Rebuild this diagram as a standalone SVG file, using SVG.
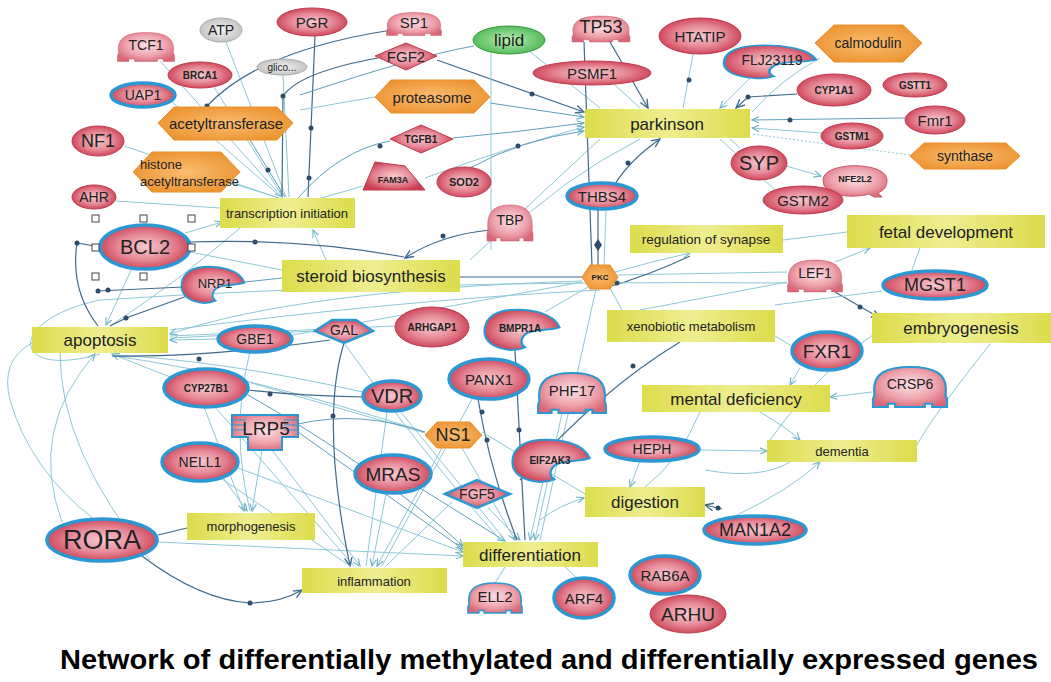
<svg xmlns="http://www.w3.org/2000/svg" width="1051" height="682" viewBox="0 0 1051 682">
<defs>
<radialGradient id="rg" cx="50%" cy="50%" r="55%"><stop offset="0" stop-color="#f6c9cf"/><stop offset="0.55" stop-color="#e58795"/><stop offset="1" stop-color="#c93b4f"/></radialGradient>
<radialGradient id="tg" cx="50%" cy="45%" r="60%"><stop offset="0" stop-color="#fbe0e3"/><stop offset="0.6" stop-color="#eea2ac"/><stop offset="1" stop-color="#d86878"/></radialGradient>
<linearGradient id="yg" x1="0" x2="1"><stop offset="0" stop-color="#dcdc4c"/><stop offset="0.5" stop-color="#eeee90"/><stop offset="1" stop-color="#dcdc4c"/></linearGradient>
<radialGradient id="og" cx="50%" cy="50%" r="60%"><stop offset="0" stop-color="#f9bd70"/><stop offset="1" stop-color="#ec912e"/></radialGradient>
<radialGradient id="gg" cx="50%" cy="50%" r="60%"><stop offset="0" stop-color="#bdeeb5"/><stop offset="1" stop-color="#3fb34a"/></radialGradient>
<radialGradient id="sg" cx="50%" cy="50%" r="60%"><stop offset="0" stop-color="#f2f2f2"/><stop offset="1" stop-color="#bcbcbc"/></radialGradient>
<marker id="al" viewBox="0 0 10 10" refX="9" refY="5" markerWidth="8" markerHeight="8" orient="auto"><path d="M0,1 L9,5 L0,9" fill="none" stroke="#6fb0c6" stroke-width="1.4"/></marker>
<marker id="ad" viewBox="0 0 10 10" refX="9" refY="5" markerWidth="8" markerHeight="8" orient="auto"><path d="M0,1 L9,5 L0,9" fill="none" stroke="#3f6a8a" stroke-width="1.4"/></marker>
<path id="tfp" d="M-48,12 C-52,-22 -30,-30 0,-30 C30,-30 52,-22 48,12 L50,18 L50,30 L30,30 L30,25 L20,25 L20,30 L-20,30 L-20,25 L-30,25 L-30,30 L-50,30 L-50,18 Z"/>
<path id="enz" d="M50,-4 C42,-26 10,-32 -15,-30 C-40,-28 -50,-14 -50,2 C-50,18 -36,28 -14,30 C-6,30 0,28 4,26 C-4,20 -2,6 14,2 C26,-1 40,0 50,-4 Z"/>
</defs>
<style>
.e{fill:url(#rg);stroke:#c23a4c;stroke-width:1}
.b{stroke:#2b98d4;stroke-width:3.5}
.tf{fill:url(#tg);stroke:#c9566a;stroke-width:1;vector-effect:non-scaling-stroke}
.tb{fill:url(#tg);stroke:#2b98d4;stroke-width:3;vector-effect:non-scaling-stroke}
.en{fill:url(#rg);stroke:#2b98d4;stroke-width:3;vector-effect:non-scaling-stroke}
.hx{fill:url(#og);stroke:#e8922e;stroke-width:1}
.bx{fill:url(#yg)}
.t{font-family:"Liberation Sans",Arial,sans-serif;fill:#222;text-anchor:middle;dominant-baseline:central}
.s{font-weight:bold;font-size:10px}
.l{fill:none;stroke:#8cc8d8;stroke-width:1}
.m{fill:none;stroke:#5e9fba;stroke-width:1}
.d{fill:none;stroke:#3f6a8a;stroke-width:1.2}
.dot{fill:#2d4d6a}
.h{fill:#fff;stroke:#444;stroke-width:1}
</style>
<rect width="1051" height="682" fill="#fff"/>
<g id="connectors">
<path class="l" d="M160,61 L282,197" marker-end="url(#al)"/>
<path class="l" d="M226,42 L286,197"/>
<path class="d" d="M315,36 L308,197"/>
<path class="l" d="M214,87 L283,197"/>
<path class="l" d="M283,75 L289,197"/>
<path class="l" d="M172,102 L281,197"/>
<path class="m" d="M250,140 L285,197"/>
<path class="l" d="M228,182 L279,198"/>
<path class="l" d="M124,146 L279,198"/>
<path class="d" d="M392,30 Q260,50 207,106"/>
<path class="d" d="M378,58 Q300,72 283,96 L282,196"/>
<path class="m" d="M390,141 Q340,150 298,198"/>
<path class="l" d="M363,186 L318,199"/>
<path class="l" d="M116,201 L220,208"/>
<path class="l" d="M185,233 L222,222" marker-end="url(#al)"/>
<path class="l" d="M326,260 L313,230" marker-end="url(#al)"/>
<path class="l" d="M240,228 Q180,280 110,326"/>
<path class="m" d="M474,46 Q420,55 300,95"/>
<path class="l" d="M375,97 L300,110"/>
<path class="d" d="M437,60 L584,112" marker-end="url(#ad)"/>
<path class="m" d="M490,103 L584,117" marker-end="url(#al)"/>
<path class="m" d="M453,138 Q520,132 584,123" marker-end="url(#al)"/>
<path class="l" d="M425,178 Q500,150 584,127" marker-end="url(#al)"/>
<path class="m" d="M470,168 Q520,140 584,131" marker-end="url(#al)"/>
<path class="d" d="M610,42 L648,108" marker-end="url(#ad)"/>
<path class="l" d="M615,85 L640,108"/>
<path class="l" d="M693,54 L683,108"/>
<path class="l" d="M752,76 L720,108" marker-end="url(#al)"/>
<path class="d" d="M797,94 L748,97 L736,108" marker-end="url(#ad)"/>
<path class="m" d="M905,118 L752,120" marker-end="url(#al)"/>
<path class="l" d="M822,133 L752,128" marker-end="url(#al)"/>
<path class="l" d="M740,148 L730,139"/>
<path class="l" d="M775,190 L720,139"/>
<path class="l" d="M820,58 Q780,80 752,112"/>
<path class="l" stroke-dasharray="2,2" d="M910,155 L752,134"/>
<path class="d" d="M615,184 Q630,160 660,139" marker-end="url(#ad)"/>
<path class="l" d="M528,50 L600,108"/>
<path class="l" d="M786,166 L821,176" marker-end="url(#al)"/>
<path class="l" d="M640,139 Q560,180 500,240"/>
<path class="l" d="M600,139 L470,260"/>
<path class="l" d="M491,53 L491,250"/>
<path class="d" d="M584,42 L592,266"/>
<path class="d" d="M598,210 L598,265"/>
<path class="l" d="M606,209 L604,266"/>
<path class="d" d="M582,277 L460,277"/>
<path class="l" d="M615,272 Q650,262 690,253" marker-end="url(#al)"/>
<path class="d" d="M490,230 Q440,235 405,258" marker-end="url(#ad)"/>
<path class="l" d="M582,281 Q300,290 170,334" marker-end="url(#al)"/>
<path class="l" d="M618,275 L787,272"/>
<path class="l" d="M610,288 L622,310"/>
<path class="d" d="M835,292 L880,318" marker-end="url(#ad)"/>
<path class="l" d="M787,282 L640,310"/>
<path class="l" d="M882,291 L775,305"/>
<path class="l" d="M835,262 L870,248" marker-end="url(#al)"/>
<path class="l" d="M545,312 L588,287"/>
<path class="l" d="M596,289 L540,540"/>
<path class="d" d="M605,288 Q650,275 690,256"/>
<path class="l" d="M783,240 L847,232"/>
<path class="l" d="M920,248 L912,270"/>
<path class="l" d="M800,368 L790,385" marker-end="url(#al)"/>
<path class="l" d="M792,346 L775,336"/>
<path class="l" d="M872,392 L830,397" marker-end="url(#al)"/>
<path class="l" d="M700,450 L767,451" marker-end="url(#al)"/>
<path class="l" d="M640,461 L630,487" marker-end="url(#al)"/>
<path class="d" d="M722,509 L705,505" marker-end="url(#ad)"/>
<path class="l" d="M735,516 Q790,490 820,462" marker-end="url(#al)"/>
<path class="l" d="M705,470 Q760,480 790,462"/>
<path class="l" d="M760,412 Q790,430 800,440" marker-end="url(#al)"/>
<path class="d" d="M680,342 Q600,390 520,480"/>
<path class="l" d="M540,520 Q560,505 584,498" marker-end="url(#al)"/>
<path class="l" d="M700,412 Q680,460 645,487"/>
<path class="l" d="M880,330 Q820,370 770,440"/>
<path class="l" d="M990,344 Q930,420 917,445"/>
<path class="l" d="M132,268 L106,325" marker-end="url(#al)"/>
<path class="d" d="M183,287 L98,291"/>
<path class="d" d="M190,295 L126,318 L110,326"/>
<path class="l" d="M218,339 L170,340" marker-end="url(#al)"/>
<path class="l" d="M395,326 L170,336"/>
<path class="l" d="M315,331 L170,338"/>
<path class="l" d="M170,377 L112,354" marker-end="url(#al)"/>
<path class="l" d="M363,392 Q220,360 112,355"/>
<path class="l" d="M425,432 Q250,375 115,356"/>
<path class="l" d="M62,522 Q28,430 95,354" marker-end="url(#al)"/>
<path class="l" d="M32,343 Q0,360 10,400 Q30,470 95,520"/>
<path class="l" d="M100,354 C10,380 5,320 100,300 Q400,280 787,283"/>
<path class="l" d="M170,330 Q400,300 600,290"/>
<path class="d" d="M100,247 L77,243 Q70,290 98,326"/>
<path class="d" d="M190,242 Q300,238 404,257"/>
<path class="l" d="M60,353 Q60,450 150,560"/>
<path class="d" d="M112,356 Q200,358 330,340"/>
<path class="l" d="M462,448 L515,540" marker-end="url(#al)"/>
<path class="m" d="M420,488 L505,541" marker-end="url(#al)"/>
<path class="l" d="M488,508 L520,540" marker-end="url(#al)"/>
<path class="l" d="M543,481 L530,540" marker-end="url(#al)"/>
<path class="d" d="M478,399 Q490,470 517,540"/>
<path class="l" d="M562,413 L535,540" marker-end="url(#al)"/>
<path class="l" d="M400,411 L505,540"/>
<path class="m" d="M248,395 Q380,470 463,546" marker-end="url(#al)"/>
<path class="m" d="M298,432 L463,549" marker-end="url(#al)"/>
<path class="l" d="M238,468 L463,552" marker-end="url(#al)"/>
<path class="l" d="M157,542 L463,556" marker-end="url(#al)"/>
<path class="l" d="M344,343 Q420,450 500,540"/>
<path class="l" d="M495,583 L505,567"/>
<path class="l" d="M578,579 L565,567"/>
<path class="d" d="M515,350 L525,540"/>
<path class="l" d="M482,432 L585,494"/>
<path class="l" d="M386,494 L372,566" marker-end="url(#al)"/>
<path class="l" d="M387,412 L366,566"/>
<path class="l" d="M442,448 L377,566" marker-end="url(#al)"/>
<path class="l" d="M272,450 L360,566" marker-end="url(#al)"/>
<path class="l" d="M215,407 L354,566"/>
<path class="d" d="M344,343 Q320,420 350,566" marker-end="url(#ad)"/>
<path class="d" d="M142,556 Q200,600 250,603 Q280,603 302,590" marker-end="url(#ad)"/>
<path class="l" d="M222,479 L350,566"/>
<path class="l" d="M472,399 L382,566"/>
<path class="l" d="M452,502 L386,566"/>
<path class="l" d="M224,479 L247,511" marker-end="url(#al)"/>
<path class="l" d="M262,450 L252,511" marker-end="url(#al)"/>
<path class="l" d="M204,407 L244,511" marker-end="url(#al)"/>
<path class="l" d="M250,352 Q230,430 250,511"/>
<path class="d" d="M158,535 L187,528"/>
<path class="m" d="M245,282 L282,278"/>
<path class="l" d="M190,252 L282,270"/>
<path class="l" d="M293,335 L582,282"/>
<path class="l" d="M248,382 L425,433"/>
<path class="m" d="M298,424 Q360,410 425,432"/>
<path class="d" d="M248,390 Q300,396 363,397"/>
<polygon class="dot" points="598,239 602,245 598,251 594,245"/>
<circle class="dot" cx="311" cy="128" r="2.5"/>
<circle class="dot" cx="309" cy="178" r="2.5"/>
<circle class="dot" cx="268" cy="170" r="2.5"/>
<circle class="dot" cx="207" cy="106" r="2.5"/>
<circle class="dot" cx="283" cy="96" r="2.5"/>
<circle class="dot" cx="380" cy="146" r="2.5"/>
<circle class="dot" cx="532" cy="94" r="2.5"/>
<circle class="dot" cx="518" cy="146" r="2.5"/>
<circle class="dot" cx="689" cy="80" r="2.5"/>
<circle class="dot" cx="748" cy="97" r="2.5"/>
<circle class="dot" cx="790" cy="120" r="2.5"/>
<circle class="dot" cx="628" cy="163" r="2.5"/>
<circle class="dot" cx="443" cy="236" r="2.5"/>
<circle class="dot" cx="617" cy="283" r="2.5"/>
<circle class="dot" cx="860" cy="307" r="2.5"/>
<circle class="dot" cx="718" cy="508" r="2.5"/>
<circle class="dot" cx="633" cy="366" r="2.5"/>
<circle class="dot" cx="98" cy="291" r="2.5"/>
<circle class="dot" cx="108" cy="290" r="2.5"/>
<circle class="dot" cx="126" cy="318" r="2.5"/>
<circle class="dot" cx="77" cy="243" r="2.5"/>
<circle class="dot" cx="255" cy="242" r="2.5"/>
<circle class="dot" cx="199" cy="359" r="2.5"/>
<circle class="dot" cx="482" cy="412" r="2.5"/>
<circle class="dot" cx="487" cy="440" r="2.5"/>
<circle class="dot" cx="519" cy="430" r="2.5"/>
<circle class="dot" cx="333" cy="416" r="2.5"/>
<circle class="dot" cx="250" cy="603" r="2.5"/>
<circle class="dot" cx="270" cy="394" r="2.5"/>
<circle class="dot" cx="380" cy="490" r="2.5"/>
</g>
<g id="n-TCF1"><use href="#tfp" class="tf" transform="translate(146,47) scale(0.57,0.48)"/><text class="t" x="146" y="45" font-size="14">TCF1</text></g>
<g id="n-ATP"><ellipse cx="221" cy="30" rx="21" ry="12" fill="url(#sg)" stroke="#aaa"/><text class="t" x="221" y="30" font-size="14">ATP</text></g>
<g id="n-PGR"><ellipse class="e" cx="312" cy="22" rx="35" ry="14"/><text class="t" x="312" y="22" font-size="15">PGR</text></g>
<g id="n-BRCA1"><ellipse class="e" cx="200" cy="75" rx="32" ry="13"/><text class="t s" x="200" y="75">BRCA1</text></g>
<g id="n-glico"><ellipse cx="282" cy="67" rx="25" ry="8" fill="url(#sg)" stroke="#aaa"/><text class="t" x="282" y="67" font-size="10">glico...</text></g>
<g id="n-UAP1"><ellipse class="e b" cx="143" cy="95" rx="32" ry="12"/><text class="t" x="143" y="95" font-size="14">UAP1</text></g>
<g id="n-acetyltransferase"><polygon class="hx" points="158,123 174,107 277,107 293,123 277,140 174,140"/><text class="t" x="226" y="123" font-size="15">acetyltransferase</text></g>
<g id="n-NF1"><ellipse class="e" cx="98" cy="141" rx="26" ry="15"/><text class="t" x="98" y="141" font-size="18">NF1</text></g>
<g id="n-histone"><polygon class="hx" points="133,172 152,152 221,152 240,172 221,192 152,192"/><text class="t" x="140" y="164" font-size="13" style="text-anchor:start">histone</text><text class="t" x="140" y="181" font-size="13" style="text-anchor:start">acetyltransferase</text></g>
<g id="n-AHR"><ellipse class="e" cx="94" cy="197" rx="22" ry="12"/><text class="t" x="94" y="197" font-size="14">AHR</text></g>
<g id="n-SP1"><use href="#tfp" class="tf" transform="translate(414,24) scale(0.55,0.38)"/><text class="t" x="414" y="22" font-size="15">SP1</text></g>
<g id="n-FGF2"><polygon class="e" points="375,56 406,43 437,56 406,70"/><text class="t" x="406" y="56" font-size="15">FGF2</text></g>
<g id="n-lipid"><ellipse cx="509" cy="40" rx="36" ry="14" fill="url(#gg)" stroke="#3a9a3a"/><text class="t" x="509" y="40" font-size="17">lipid</text></g>
<g id="n-TP53"><use href="#tfp" class="tf" transform="translate(601,29) scale(0.58,0.43)"/><text class="t" x="601" y="27" font-size="18">TP53</text></g>
<g id="n-HTATIP"><ellipse class="e" cx="700" cy="36" rx="41" ry="18"/><text class="t" x="700" y="36" font-size="15">HTATIP</text></g>
<g id="n-PSMF1"><ellipse class="e" cx="592" cy="73" rx="59" ry="12"/><text class="t" x="592" y="73" font-size="15">PSMF1</text></g>
<g id="n-proteasome"><polygon class="hx" points="375,97 391,80 474,80 490,97 474,113 391,113"/><text class="t" x="432" y="97" font-size="15">proteasome</text></g>
<g id="n-TGFB1"><polygon class="e" points="390,139 421,125 453,139 421,153"/><text class="t s" x="421" y="139">TGFB1</text></g>
<g id="n-FAM3A"><polygon class="e" points="375,162 405,166 425,190 363,190"/><text class="t s" x="393" y="180" style="font-size:9px">FAM3A</text></g>
<g id="n-SOD2"><ellipse class="e" cx="464" cy="182" rx="27" ry="15"/><text class="t s" x="464" y="182" style="font-size:11px">SOD2</text></g>
<g id="n-THBS4"><ellipse class="e b" cx="602" cy="196" rx="35" ry="13"/><text class="t" x="602" y="196" font-size="15">THBS4</text></g>
<g id="n-parkinson"><rect class="bx" x="585" y="109" width="165" height="29"/><text class="t" x="667" y="124" font-size="17">parkinson</text></g>
<g id="n-FLJ23119"><use href="#enz" class="en" transform="translate(770,62) scale(0.92,0.55)"/><text class="t" x="772" y="60" font-size="14">FLJ23119</text></g>
<g id="n-calmodulin"><polygon class="hx" points="815,43 834,25 903,25 922,43 903,62 834,62"/><text class="t" x="868" y="43" font-size="14">calmodulin</text></g>
<g id="n-CYP1A1"><ellipse class="e" cx="834" cy="90" rx="37" ry="16"/><text class="t s" x="834" y="90">CYP1A1</text></g>
<g id="n-GSTT1"><ellipse class="e" cx="915" cy="85" rx="32" ry="12"/><text class="t s" x="915" y="85">GSTT1</text></g>
<g id="n-Fmr1"><ellipse class="e" cx="935" cy="120" rx="30" ry="14"/><text class="t" x="935" y="120" font-size="15">Fmr1</text></g>
<g id="n-GSTM1"><ellipse class="e" cx="852" cy="136" rx="31" ry="13"/><text class="t s" x="852" y="136">GSTM1</text></g>
<g id="n-synthase"><polygon class="hx" points="910,156 924,143 1006,143 1020,156 1006,169 924,169"/><text class="t" x="965" y="156" font-size="14">synthase</text></g>
<g id="n-SYP"><ellipse class="e" cx="759" cy="163" rx="28" ry="17"/><text class="t" x="759" y="163" font-size="20">SYP</text></g>
<g id="n-NFE2L2"><path class="tf" d="M823,180 C823,161 887,161 887,180 C887,187 884,190 878,193 L882,197 L874,197 L869,194 C855,198 823,198 823,180 Z"/><text class="t s" x="855" y="179" style="font-size:9px">NFE2L2</text></g>
<g id="n-GSTM2"><ellipse class="e" cx="803" cy="200" rx="40" ry="14"/><text class="t" x="803" y="200" font-size="15">GSTM2</text></g>
<g id="n-transcription-initiation"><rect class="bx" x="220" y="198" width="135" height="30"/><text class="t" x="287" y="213" font-size="13">transcription initiation</text></g>
<g id="n-TBP"><use href="#tfp" class="tf" transform="translate(510,223) scale(0.46,0.6)"/><text class="t" x="510" y="220" font-size="14">TBP</text></g>
<g id="n-regulation-of-synapse"><rect class="bx" x="630" y="225" width="153" height="28"/><text class="t" x="706" y="239" font-size="13.5">regulation of synapse</text></g>
<g id="n-fetal-development"><rect class="bx" x="847" y="215" width="198" height="33"/><text class="t" x="946" y="232" font-size="17">fetal development</text></g>
<g id="n-BCL2"><ellipse class="e b" cx="145" cy="247" rx="45" ry="22"/><text class="t" x="145" y="247" font-size="20">BCL2</text><g class="h"><rect x="92" y="215" width="7" height="7"/><rect x="140" y="215" width="7" height="7"/><rect x="188" y="215" width="7" height="7"/><rect x="92" y="244" width="7" height="7"/><rect x="188" y="244" width="7" height="7"/><rect x="92" y="273" width="7" height="7"/><rect x="140" y="273" width="7" height="7"/><rect x="188" y="273" width="7" height="7"/></g></g>
<g id="n-steroid-biosynthesis"><rect class="bx" x="282" y="260" width="178" height="32"/><text class="t" x="371" y="276" font-size="17">steroid biosynthesis</text></g>
<g id="n-PKC"><polygon class="hx" points="582,277 590,265 610,265 618,277 610,289 590,289"/><text class="t s" x="600" y="277" style="font-size:8px">PKC</text></g>
<g id="n-NRP1"><use href="#enz" class="en" transform="translate(213,285) scale(0.63,0.6)"/><text class="t" x="215" y="283" font-size="13">NRP1</text></g>
<g id="n-LEF1"><use href="#tfp" class="tf" transform="translate(815,276) scale(0.55,0.53)"/><text class="t" x="815" y="273" font-size="14">LEF1</text></g>
<g id="n-MGST1"><ellipse class="e b" cx="935" cy="285" rx="52" ry="14"/><text class="t" x="935" y="285" font-size="18">MGST1</text></g>
<g id="n-apoptosis"><rect class="bx" x="32" y="327" width="136" height="26"/><text class="t" x="100" y="340" font-size="17">apoptosis</text></g>
<g id="n-GBE1"><ellipse class="e b" cx="255" cy="339" rx="37" ry="13"/><text class="t" x="255" y="339" font-size="14">GBE1</text></g>
<g id="n-GAL"><polygon class="e b" style="stroke-width:2.5" points="315,331 332,320 356,320 373,331 344,343"/><text class="t" x="344" y="330" font-size="14">GAL</text></g>
<g id="n-ARHGAP1"><ellipse class="e" cx="432" cy="327" rx="37" ry="20"/><text class="t s" x="432" y="327">ARHGAP1</text></g>
<g id="n-BMPR1A"><use href="#enz" class="en" transform="translate(522,330) scale(0.75,0.67)"/><text class="t s" x="520" y="328">BMPR1A</text></g>
<g id="n-xenobiotic-metabolism"><rect class="bx" x="607" y="310" width="168" height="32"/><text class="t" x="691" y="326" font-size="13">xenobiotic metabolism</text></g>
<g id="n-embryogenesis"><rect class="bx" x="872" y="313" width="179" height="30"/><text class="t" x="961" y="328" font-size="17">embryogenesis</text></g>
<g id="n-FXR1"><ellipse class="e b" cx="827" cy="351" rx="35" ry="19"/><text class="t" x="827" y="351" font-size="19">FXR1</text></g>
<g id="n-CYP27B1"><ellipse class="e b" cx="206" cy="388" rx="42" ry="19"/><text class="t s" x="206" y="388">CYP27B1</text></g>
<g id="n-PANX1"><ellipse class="e b" cx="489" cy="379" rx="40" ry="20"/><text class="t" x="489" y="379" font-size="15">PANX1</text></g>
<g id="n-VDR"><ellipse class="e b" cx="392" cy="396" rx="29" ry="15"/><text class="t" x="392" y="396" font-size="20">VDR</text></g>
<g id="n-PHF17"><use href="#tfp" class="tb" transform="translate(572,393) scale(0.68,0.67)"/><text class="t" x="572" y="390" font-size="15">PHF17</text></g>
<g id="n-CRSP6"><use href="#tfp" class="tb" transform="translate(910,387) scale(0.74,0.67)"/><text class="t" x="910" y="384" font-size="14">CRSP6</text></g>
<g id="n-mental-deficiency"><rect class="bx" x="642" y="385" width="188" height="27"/><text class="t" x="736" y="399" font-size="17">mental deficiency</text></g>
<g id="n-LRP5"><path fill="url(#tg)" stroke="#2b98d4" stroke-width="2" d="M232,415 H298 V437 H282 V450 H248 V437 H232 Z"/><path fill="none" stroke="#2b98d4" stroke-width="1" d="M232,420 H246 M232,425 H246 M232,430 H246 M284,420 H298 M284,425 H298 M284,430 H298"/><text class="t" x="266" y="428" font-size="19">LRP5</text></g>
<g id="n-NS1"><polygon class="hx" points="425,435 437,422 470,422 482,435 470,448 437,448"/><text class="t" x="453" y="435" font-size="18">NS1</text></g>
<g id="n-dementia"><rect class="bx" x="767" y="440" width="150" height="22"/><text class="t" x="842" y="451" font-size="13">dementia</text></g>
<g id="n-HEPH"><ellipse class="e b" cx="652" cy="449" rx="47" ry="12"/><text class="t" x="652" y="449" font-size="14">HEPH</text></g>
<g id="n-NELL1"><ellipse class="e b" cx="200" cy="462" rx="38" ry="19"/><text class="t" x="200" y="462" font-size="14">NELL1</text></g>
<g id="n-EIF2AK3"><use href="#enz" class="en" transform="translate(551,461) scale(0.77,0.7)"/><text class="t s" x="550" y="460">EIF2AK3</text></g>
<g id="n-MRAS"><ellipse class="e b" cx="393" cy="474" rx="38" ry="19"/><text class="t" x="393" y="474" font-size="19">MRAS</text></g>
<g id="n-FGF5"><polygon class="e b" style="stroke-width:2.5" points="445,494 477,480 510,494 477,508"/><text class="t" x="477" y="494" font-size="14">FGF5</text></g>
<g id="n-digestion"><rect class="bx" x="585" y="487" width="120" height="30"/><text class="t" x="645" y="502" font-size="17">digestion</text></g>
<g id="n-morphogenesis"><rect class="bx" x="187" y="513" width="128" height="27"/><text class="t" x="251" y="526" font-size="13">morphogenesis</text></g>
<g id="n-MAN1A2"><ellipse class="e b" cx="755" cy="530" rx="51" ry="14"/><text class="t" x="755" y="530" font-size="18">MAN1A2</text></g>
<g id="n-RORA"><ellipse class="e b" cx="102" cy="540" rx="55" ry="21"/><text class="t" x="102" y="540" font-size="27">RORA</text></g>
<g id="n-differentiation"><rect class="bx" x="463" y="542" width="135" height="25"/><text class="t" x="530" y="555" font-size="17">differentiation</text></g>
<g id="n-inflammation"><rect class="bx" x="302" y="568" width="145" height="25"/><text class="t" x="374" y="581" font-size="13">inflammation</text></g>
<g id="n-RAB6A"><ellipse class="e b" cx="665" cy="575" rx="35" ry="19"/><text class="t" x="665" y="575" font-size="15">RAB6A</text></g>
<g id="n-ELL2"><use href="#tfp" class="tb" transform="translate(495,598) scale(0.54,0.5)"/><text class="t" x="495" y="596" font-size="15">ELL2</text></g>
<g id="n-ARF4"><ellipse class="e b" cx="584" cy="598" rx="30" ry="20"/><text class="t" x="584" y="598" font-size="15">ARF4</text></g>
<g id="n-ARHU"><ellipse class="e" cx="688" cy="614" rx="38" ry="19"/><text class="t" x="688" y="614" font-size="19">ARHU</text></g>
<text x="60" y="669" font-family="Liberation Sans, Arial, sans-serif" font-weight="bold" font-size="27" fill="#000" textLength="978" lengthAdjust="spacingAndGlyphs">Network of differentially methylated and differentially expressed genes</text>
</svg>
